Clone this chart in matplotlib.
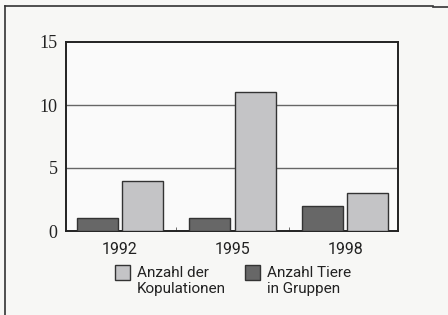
import matplotlib.pyplot as plt
from matplotlib.patches import Rectangle
from matplotlib.lines import Line2D
import numpy as np

years = ["1992", "1995", "1998"]
kopulationen = [4, 11, 3]
tiere_gruppen = [1, 1, 2]
legend_labels = ["Anzahl der\nKopulationen", "Anzahl Tiere\nin Gruppen"]

light = "#c4c4c6"
dark = "#676767"
edge = "#333333"
sans = ["Roboto", "DejaVu Sans"]

W, H = 448, 315
fig = plt.figure(figsize=(W / 100, H / 100), dpi=100)
fig.patch.set_facecolor("#f7f7f5")

# axes box: x 66..398, y 42..231 (px)
ax = fig.add_axes([66 / W, 1 - 231 / H, 332 / W, 189 / H])
ax.set_facecolor("#fafafa")

x = np.arange(len(years))
w = 0.365
ax.bar(x - w / 2 - 0.02, tiere_gruppen, w, color=dark, edgecolor=edge,
       linewidth=1.0, zorder=3)
ax.bar(x + w / 2 + 0.02, kopulationen, w, color=light, edgecolor=edge,
       linewidth=1.0, zorder=3)

ax.set_xlim(-0.48, 2.47)
ax.set_ylim(0, 15)
ax.set_yticks([0, 5, 10, 15])
ax.set_xticks(x)
ax.set_xticklabels(years, fontsize=11.5, family=sans, color="#222222")
ax.tick_params(axis="x", length=0, pad=8)
ax.tick_params(axis="y", length=0, pad=6)
for lab in ax.get_yticklabels():
    lab.set_family(["Liberation Serif", "DejaVu Serif"])
    lab.set_fontsize(13)
    lab.set_color("#222222")

# small ticks between groups
ax.set_xticks([0.5, 1.5], minor=True)
ax.tick_params(axis="x", which="minor", direction="in", length=3, color="#555555")

for yv in [5, 10]:
    ax.axhline(yv, color="#666666", linewidth=1.0, zorder=1)

for s in ax.spines.values():
    s.set_linewidth(1.4)
    s.set_color("#222222")

# legend, placed by hand: box aligned with first text line
for px, col, lab in [(115, light, legend_labels[0]), (245, dark, legend_labels[1])]:
    fig.add_artist(Rectangle((px / W, 1 - 280 / H), 15 / W, 15 / H,
                             facecolor=col, edgecolor=edge, linewidth=1.0,
                             transform=fig.transFigure))
    fig.text((px + 22) / W, 1 - 266 / H, lab, ha="left", va="top",
             family=sans, fontsize=11, color="#222222", linespacing=1.2)

# outer frame (left and top only)
fig.add_artist(Line2D([5 / W, 5 / W], [0, 1 - 6 / H], color="#333333",
                      linewidth=1.2, transform=fig.transFigure))
fig.add_artist(Line2D([5 / W, 433 / W], [1 - 6 / H, 1 - 6 / H],
                      color="#333333", linewidth=1.2, transform=fig.transFigure))
fig.add_artist(Line2D([433 / W, 1], [1 - 7 / H, 1 - 7 / H],
                      color="#333333", linewidth=1.2, transform=fig.transFigure))

fig.savefig("out.png", dpi=100, facecolor=fig.get_facecolor())
